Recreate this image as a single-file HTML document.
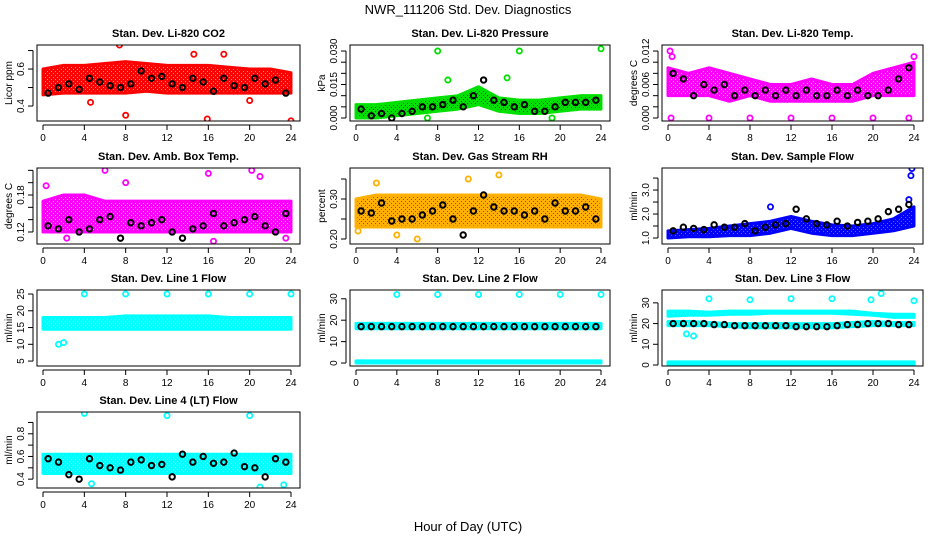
<!DOCTYPE html>
<html><head><meta charset="utf-8"><style>
body{margin:0;background:#fff;width:936px;height:540px;overflow:hidden}
svg text{font-family:"Liberation Sans",sans-serif}
</style></head><body>
<svg id="chart" width="936" height="540" xmlns="http://www.w3.org/2000/svg">
<text x="468" y="14" text-anchor="middle" font-size="13">NWR_111206  Std. Dev. Diagnostics</text>
<text x="468" y="531" text-anchor="middle" font-size="13">Hour of Day (UTC)</text>
</svg>
<script>
const hoursBand = [0,2,4,6,8,10,12,14,16,18,20,22,24];
const hoursHourly = [0.5,1.5,2.5,3.5,4.5,5.5,6.5,7.5,8.5,9.5,10.5,11.5,12.5,13.5,14.5,15.5,16.5,17.5,18.5,19.5,20.5,21.5,22.5,23.5];
const xTicks = [0,4,8,12,16,20,24];

const co2Lo = [0.46,0.47,0.47,0.47,0.47,0.48,0.47,0.47,0.47,0.47,0.47,0.47,0.47];
const co2Hi = [0.60,0.62,0.62,0.63,0.64,0.63,0.62,0.62,0.62,0.61,0.60,0.60,0.58];
const co2Black = [0.47,0.50,0.52,0.49,0.55,0.53,0.51,0.50,0.52,0.59,0.55,0.56,0.52,0.50,0.55,0.53,0.48,0.55,0.51,0.50,0.55,0.52,0.54,0.47];
const co2Out = [[7.4,0.73],[8,0.35],[15.9,0.33],[24,0.32],[17.5,0.68],[14.6,0.68],[4.6,0.42],[20,0.43]];

const presLo = [0.000,0.000,0.001,0.002,0.003,0.004,0.006,0.003,0.002,0.002,0.003,0.004,0.004];
const presHi = [0.006,0.006,0.007,0.008,0.009,0.010,0.014,0.009,0.008,0.008,0.009,0.010,0.010];
const presBlack = [0.004,0.001,0.002,0.000,0.002,0.003,0.005,0.005,0.006,0.008,0.005,0.010,0.017,0.008,0.007,0.005,0.006,0.003,0.003,0.005,0.007,0.007,0.007,0.008];
const presOut = [[8,0.030],[24,0.031],[16,0.030],[14.8,0.018],[9,0.017],[0.5,0.004],[19.2,0.000],[7,0.000]];

const tempLo = [0.004,0.004,0.004,0.003,0.004,0.003,0.003,0.003,0.003,0.003,0.004,0.004,0.004];
const tempHi = [0.009,0.008,0.009,0.008,0.007,0.006,0.006,0.007,0.006,0.006,0.008,0.009,0.010];
const tempBlack = [0.008,0.007,0.004,0.006,0.005,0.006,0.004,0.005,0.004,0.005,0.004,0.005,0.004,0.005,0.004,0.004,0.005,0.004,0.005,0.004,0.004,0.005,0.007,0.009];
const tempOut = [[0.2,0.012],[0.4,0.011],[0.3,0],[4,0],[8,0],[12,0],[16,0],[20,0],[23.5,0],[24,0.011]];

const ambLo = [0.12,0.12,0.12,0.12,0.12,0.12,0.12,0.12,0.12,0.12,0.12,0.12,0.12];
const ambHi = [0.17,0.18,0.18,0.17,0.17,0.17,0.17,0.17,0.17,0.17,0.17,0.17,0.17];
const ambBlack = [0.13,0.125,0.14,0.12,0.125,0.14,0.145,0.11,0.135,0.13,0.135,0.14,0.12,0.11,0.125,0.13,0.15,0.13,0.135,0.14,0.145,0.13,0.12,0.15];
const ambOut = [[0.3,0.195],[6,0.22],[8,0.2],[16,0.215],[20.2,0.22],[21,0.21],[2.3,0.11],[16.5,0.105],[23.5,0.11]];

const rhLo = [0.23,0.23,0.23,0.23,0.23,0.23,0.23,0.23,0.23,0.23,0.23,0.23,0.23];
const rhHi = [0.30,0.31,0.31,0.31,0.31,0.31,0.31,0.31,0.31,0.31,0.31,0.31,0.30];
const rhBlack = [0.27,0.265,0.29,0.245,0.25,0.25,0.26,0.27,0.285,0.25,0.21,0.27,0.31,0.28,0.27,0.27,0.26,0.27,0.25,0.29,0.27,0.27,0.28,0.25];
const rhOut = [[2,0.34],[11,0.35],[14,0.36],[4,0.21],[6,0.20],[0.2,0.22]];

const sfLo = [1.0,1.05,1.05,1.1,1.1,1.2,1.4,1.2,1.1,1.1,1.2,1.3,1.5];
const sfHi = [1.3,1.35,1.4,1.5,1.6,1.7,1.9,1.7,1.55,1.5,1.6,1.8,2.3];
const sfBlack = [1.3,1.45,1.4,1.35,1.55,1.45,1.45,1.6,1.3,1.45,1.55,1.6,2.2,1.8,1.6,1.55,1.7,1.5,1.65,1.7,1.8,2.1,2.2,2.4];
const sfOut = [[23.7,3.6],[23.8,3.9],[10,2.3],[23.5,2.6]];

const l1Lo = [14.5,14.5,14.5,14.5,14.5,14.5,14.5,14.5,14.5,14.5,14.5,14.5,14.5];
const l1Hi = [18,18,18,18,18.5,18.5,18.5,18.5,18.5,18,18,18,18];
const l1LowLo = [1.5,1.5,1.5,1.5,1.5,1.5,1.5,1.5,1.5,1.5,1.5,1.5,1.5];
const l1LowHi = [2.5,2.5,2.5,2.5,2.5,2.5,2.5,2.5,2.5,2.5,2.5,2.5,2.5];
const l1Black = [2,2,2,2,2,2,2,2,2,2,2,2,2,2,2,2,2,2,2,2,2,2,2,2];
const l1Out = [[4,25],[8,25],[12,25],[16,25],[20,25],[24,25],[1.5,10],[2,10.5]];

const l2Lo = [16,16,16,16,16,16,16,16,16,16,16,16,16];
const l2Hi = [18.5,18.5,18.5,18.5,18.5,18.5,18.5,18.5,18.5,18.5,18.5,18.5,18.5];
const l2LowLo = [0,0,0,0,0,0,0,0,0,0,0,0,0];
const l2LowHi = [1,1,1,1,1,1,1,1,1,1,1,1,1];
const l2Black = [17,17,17,17,17,17,17,17,17,17,17,17,17,17,17,17,17,17,17,17,17,17,17,17];
const l2Out = [[4,32],[8,32],[12,32],[16,32],[20,32],[24,32]];

const l3Lo = [23.5,24,24,24.5,24.5,25,25,25,25,24.5,24,23,23];
const l3Hi = [26,26,25.5,26,26,26,26,26,26,26,25,24.5,24.5];
const l3MidLo = [19,19,19,18.5,18,18,18,18,18,18.5,19,19,19];
const l3MidHi = [21,21,20.5,20,20,20,20,20,20,20.5,21,20.5,20.5];
const l3LowLo = [0,0,0,0,0,0,0,0,0,0,0,0,0];
const l3LowHi = [1.5,1.5,1.5,1.5,1.5,1.5,1.5,1.5,1.5,1.5,1.5,1.5,1.5];
const l3Black = [20,20,20,20,19.5,19.5,19,19,19,19,19,19,18.5,18.5,18.5,18.5,19,19.5,19.5,20,20,20,19.5,19.5];
const l3Out = [[4,32],[8,31.5],[12,32],[16,32],[19.8,31.5],[20.8,34.5],[24,31],[1.8,15],[2.5,14]];

const l4Lo = [0.45,0.45,0.45,0.45,0.45,0.45,0.45,0.45,0.45,0.45,0.45,0.45,0.45];
const l4Hi = [0.62,0.62,0.62,0.62,0.62,0.62,0.62,0.62,0.62,0.62,0.62,0.62,0.62];
const l4Black = [0.58,0.55,0.44,0.40,0.58,0.52,0.50,0.48,0.55,0.57,0.52,0.53,0.42,0.62,0.55,0.60,0.54,0.55,0.63,0.51,0.50,0.42,0.58,0.55];
const l4Out = [[4,0.98],[12,0.96],[20,0.96],[21,0.33],[4.7,0.36],[23.3,0.35]];

const NS="http://www.w3.org/2000/svg";
const svg=document.getElementById('chart');
function el(tag,attrs,parent){const e=document.createElementNS(NS,tag);for(const k in attrs)e.setAttribute(k,attrs[k]);(parent||svg).appendChild(e);return e;}

const colX0=[43,356,668], colX24=[291,601,914];
const rowTop=[45,168,290,412], H=76;
const defs=el('defs',{});
let patN=0;
function makePattern(color,dot){
  const id='pat'+(patN++);
  const p=el('pattern',{id:id,width:4,height:4,patternUnits:'userSpaceOnUse'},defs);
  el('rect',{x:0,y:0,width:4,height:4,fill:color},p);
  el('rect',{x:1,y:1,width:1,height:1,fill:dot},p);
  el('rect',{x:3,y:3,width:1,height:1,fill:dot},p);
  return id;
}

function panel(cfg){
  const x0=colX0[cfg.col], x24=colX24[cfg.col], top=rowTop[cfg.row], bot=top+H;
  const left=x0-6, right=x24+9;
  const xs=h=>x0+(x24-x0)*h/24;
  const ys=v=>bot-(v-cfg.ymin)/(cfg.ymax-cfg.ymin)*H;
  const g=el('g',{});
  
  
  const clip='clip-'+cfg.name;
  const cp=el('clipPath',{id:clip},g);el('rect',{x:left,y:top,width:right-left,height:H},cp);
  const data=el('g',{'clip-path':'url(#'+clip+')'},g);
  const pid=makePattern(cfg.color,cfg.dot||'#ffffff');
  cfg.bands.forEach((b,bi)=>{
    let pts=hoursBand.map((h,i)=>xs(h)+','+ys(b[1][i]));
    pts=pts.concat(hoursBand.slice().reverse().map((h,j)=>{const i=hoursBand.length-1-j;return xs(h)+','+ys(b[0][i]);}));
    const p=el('polygon',{points:pts.join(' '),fill:'url(#'+pid+')',stroke:cfg.color,'stroke-width':3,'stroke-linejoin':'round'},data);
    
    
  });
  cfg.out.forEach(o=>{
    const c=el('circle',{cx:xs(o[0]),cy:ys(o[1]),r:2.6,fill:'none',stroke:cfg.color,'stroke-width':1.8},data);
    
    
  });
  cfg.black.forEach((v,i)=>{
    const c=el('circle',{cx:xs(hoursHourly[i]),cy:ys(v),r:2.7,fill:'none',stroke:'#000','stroke-width':2},data);
    
    
  });
  el('rect',{x:left,y:top,width:right-left,height:H,fill:'none',stroke:'#000','stroke-width':1},g);
  const xa=bot+4;
  el('line',{x1:x0,y1:xa,x2:x24,y2:xa,stroke:'#000'},g);
  xTicks.forEach(t=>{el('line',{x1:xs(t),y1:xa,x2:xs(t),y2:xa+5,stroke:'#000'},g);
    const tx=el('text',{x:xs(t),y:xa+16,'text-anchor':'middle','font-size':10},g);tx.textContent=t;});
  const ya=left-4;
  el('line',{x1:ya,y1:ys(cfg.ticks[0]),x2:ya,y2:ys(cfg.ticks[cfg.ticks.length-1]),stroke:'#000'},g);
  cfg.ticks.forEach((t,i)=>{const y=ys(t);el('line',{x1:ya-5,y1:y,x2:ya,y2:y,stroke:'#000'},g);
    if(cfg.labels[i]){const tx=el('text',{x:ya-9,y:y,'text-anchor':'middle','font-size':10,transform:`rotate(-90 ${ya-9} ${y})`},g);tx.textContent=cfg.labels[i];}});
  const yl=el('text',{x:left-25,y:(top+bot)/2,'text-anchor':'middle','font-size':10,transform:`rotate(-90 ${left-25} ${(top+bot)/2})`},g);
  yl.textContent=cfg.ylab;
  const tt=el('text',{x:(left+right)/2,y:top-8,'text-anchor':'middle','font-size':11,'font-weight':'bold'},g);
  tt.textContent=cfg.title;
}

panel({name:'panel-co2',col:0,row:0,ymin:0.319,ymax:0.730,ticks:[0.4,0.5,0.6,0.7],labels:['0.4','','0.6',''],ylab:'Licor ppm',title:'Stan. Dev. Li-820 CO2',color:'#ff0000',dot:'#ff9090',bands:[[co2Lo,co2Hi]],black:co2Black,out:co2Out});
panel({name:'panel-pressure',col:1,row:0,ymin:-0.00134,ymax:0.0327,ticks:[0,0.005,0.010,0.015,0.020,0.025,0.030],labels:['0.000','','','0.015','','','0.030'],ylab:'kPa',title:'Stan. Dev. Li-820 Pressure',color:'#00e000',dot:'#005000',bands:[[presLo,presHi]],black:presBlack,out:presOut});
panel({name:'panel-temp',col:2,row:0,ymin:-0.00054,ymax:0.01308,ticks:[0,0.002,0.004,0.006,0.008,0.010,0.012],labels:['0.000','','','0.006','','','0.012'],ylab:'degrees C',title:'Stan. Dev. Li-820 Temp.',color:'#ff00ff',dot:'#ffb0ff',bands:[[tempLo,tempHi]],black:tempBlack,out:tempOut});
panel({name:'panel-ambbox',col:0,row:1,ymin:0.1005,ymax:0.2238,ticks:[0.12,0.14,0.16,0.18,0.20,0.22],labels:['0.12','','','0.18','',''],ylab:'degrees C',title:'Stan. Dev. Amb. Box Temp.',color:'#ff00ff',dot:'#ffb0ff',bands:[[ambLo,ambHi]],black:ambBlack,out:ambOut});
panel({name:'panel-rh',col:1,row:1,ymin:0.1875,ymax:0.3775,ticks:[0.20,0.25,0.30,0.35],labels:['0.20','','0.30',''],ylab:'percent',title:'Stan. Dev. Gas Stream RH',color:'#ffb000',dot:'#ff2000',bands:[[rhLo,rhHi]],black:rhBlack,out:rhOut});
panel({name:'panel-sampleflow',col:2,row:1,ymin:0.75,ymax:3.92,ticks:[1,1.5,2,2.5,3,3.5],labels:['1.0','','2.0','','3.0',''],ylab:'ml/min',title:'Stan. Dev. Sample Flow',color:'#0000ff',dot:'#6060ff',bands:[[sfLo,sfHi]],black:sfBlack,out:sfOut});
panel({name:'panel-line1',col:0,row:2,ymin:3.53,ymax:26.2,ticks:[5,10,15,20,25],labels:['5','10','15','20','25'],ylab:'ml/min',title:'Stan. Dev. Line 1 Flow',color:'#00ffff',dot:'#b0ffff',bands:[[l1Lo,l1Hi],[l1LowLo,l1LowHi]],black:l1Black,out:l1Out});
panel({name:'panel-line2',col:1,row:2,ymin:-1.38,ymax:34.1,ticks:[0,10,20,30],labels:['0','10','20','30'],ylab:'ml/min',title:'Stan. Dev. Line 2 Flow',color:'#00ffff',dot:'#b0ffff',bands:[[l2Lo,l2Hi],[l2LowLo,l2LowHi]],black:l2Black,out:l2Out});
panel({name:'panel-line3',col:2,row:2,ymin:-0.48,ymax:36.2,ticks:[0,10,20,30],labels:['0','10','20','30'],ylab:'ml/min',title:'Stan. Dev. Line 3 Flow',color:'#00ffff',dot:'#b0ffff',bands:[[l3Lo,l3Hi],[l3MidLo,l3MidHi],[l3LowLo,l3LowHi]],black:l3Black,out:l3Out});
panel({name:'panel-line4',col:0,row:3,ymin:0.322,ymax:0.992,ticks:[0.4,0.5,0.6,0.7,0.8,0.9],labels:['0.4','','0.6','','0.8',''],ylab:'ml/min',title:'Stan. Dev. Line 4 (LT) Flow',color:'#00ffff',dot:'#b0ffff',bands:[[l4Lo,l4Hi]],black:l4Black,out:l4Out});
</script>
</body></html>
